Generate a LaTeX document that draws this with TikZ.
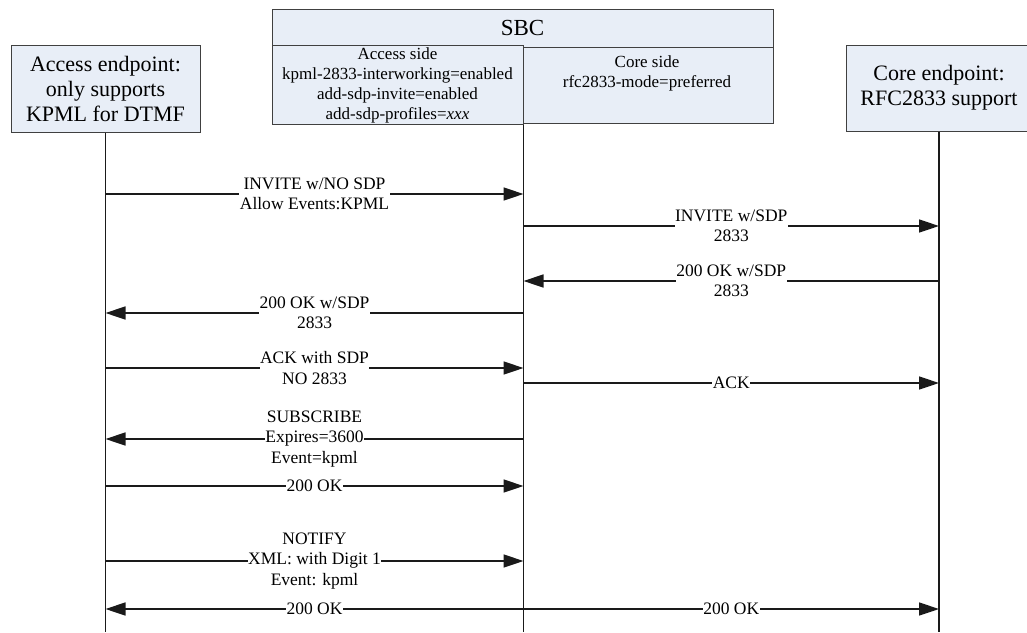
\documentclass[tikz,border=0pt]{standalone}
\usepackage{fontspec}
\setmainfont{Liberation Serif}
\usetikzlibrary{arrows.meta}
\definecolor{boxfill}{HTML}{E8EEF7}
\definecolor{boxline}{HTML}{404040}
\definecolor{wire}{HTML}{1A1A1A}
\tikzset{
  endpt/.style={draw=boxline, fill=boxfill, line width=1pt, inner sep=2pt, align=center, font=\fontsize{22}{25}\selectfont},
  sbcpart/.style={draw=boxline, fill=boxfill, line width=1pt, inner sep=2pt, align=center, font=\fontsize{17}{20}\selectfont},
  sidetxt/.style={inner sep=0pt, align=center, font=\fontsize{17}{20}\selectfont},
  life/.style={draw=wire, line width=1.5pt},
  msg/.style={draw=wire, line width=1.5pt, -{Triangle[length=20pt,width=13pt]}},
  lbl/.style={fill=white, inner sep=0.5pt, align=center, font=\fontsize{17.5}{20.5}\selectfont},
}
\begin{document}
\begin{tikzpicture}[x=1pt,y=-1pt]
\useasboundingbox (0,0) rectangle (1027,632);
\coordinate (bottom) at (0,632);

% endpoints
\node[endpt, minimum width=189pt, minimum height=87pt] (acc) at (105.5,88.5) {Access endpoint:\\only supports\\KPML for DTMF};
\node[endpt, minimum width=186pt, minimum height=86pt] (core) at (939,88) {Core endpoint:\\RFC2833 support};

% SBC
\node[sbcpart, minimum width=501pt, minimum height=38pt, font=\fontsize{23}{26}\selectfont] (sbc) at (522.5,28) {SBC};
\node[sbcpart, minimum width=251pt, minimum height=76pt] (accside) at (397.5,85) {Access side\\kpml-2833-interworking=enabled\\add-sdp-invite=enabled\\add-sdp-profiles=\textit{xxx}};
\node[sbcpart, minimum width=250pt, minimum height=76pt] (coreside) at (648,85) {};
\node[sidetxt] (coretxt) at (647,73) {Core side\\rfc2833-mode=preferred};

% lifelines
\draw[life] (acc.south) -- (acc.south |- bottom);
\draw[life] (accside.south east) -- (accside.south east |- bottom);
\draw[life] (core.south) -- (core.south |- bottom);

% message rows
\foreach \m/\y in {1/194, 2/226, 3/281, 4/313, 5/368, 6/383, 7/439, 8/486, 9/561, 10/609} {
  \coordinate (A\m) at (acc.south |- 0,\y);
  \coordinate (S\m) at (accside.south east |- 0,\y);
  \coordinate (C\m) at (core.south |- 0,\y);
}

\draw[msg] (A1) -- node[lbl] {INVITE w/NO SDP\\Allow Events:KPML} (S1);
\draw[msg] (S2) -- node[lbl] {INVITE w/SDP\\2833} (C2);
\draw[msg] (C3) -- node[lbl] {200 OK w/SDP\\2833} (S3);
\draw[msg] (S4) -- node[lbl] {200 OK w/SDP\\2833} (A4);
\draw[msg] (A5) -- node[lbl] {ACK with SDP\\NO 2833} (S5);
\draw[msg] (S6) -- node[lbl] {ACK} (C6);
\draw[msg] (S7) -- node[lbl] {SUBSCRIBE\\Expires=3600\\Event=kpml} (A7);
\draw[msg] (A8) -- node[lbl] {200 OK} (S8);
\draw[msg] (A9) -- node[lbl] {NOTIFY\\XML: with Digit 1\\Event: kpml} (S9);
\draw[msg] (S10) -- node[lbl] {200 OK} (A10);
\draw[msg] (S10) -- node[lbl] {200 OK} (C10);
\end{tikzpicture}
\end{document}
